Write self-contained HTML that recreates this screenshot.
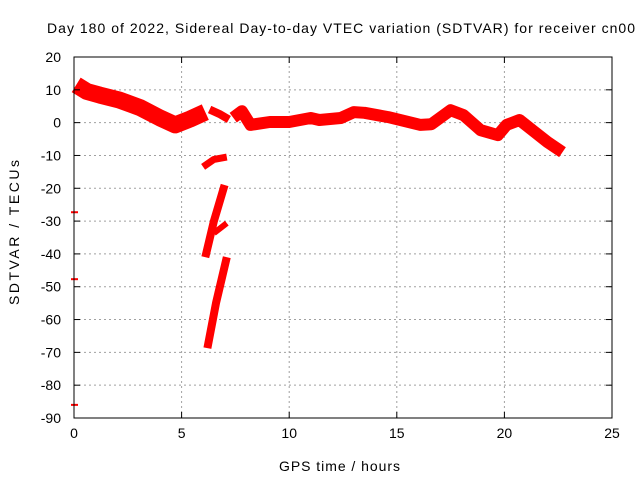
<!DOCTYPE html>
<html><head><meta charset="utf-8"><style>
html,body{margin:0;padding:0;background:#fff}
svg{display:block;font-family:"Liberation Sans",sans-serif}
</style></head><body>
<svg id="chart" width="640" height="480" viewBox="0 0 640 480" xmlns="http://www.w3.org/2000/svg">
<rect width="640" height="480" fill="#fff"/>
<text x="47" y="33" font-size="14" textLength="588" lengthAdjust="spacing">Day 180 of 2022, Sidereal Day-to-day VTEC variation (SDTVAR) for receiver cn00</text>
<text x="279" y="471" font-size="14" textLength="121" lengthAdjust="spacing">GPS time / hours</text>
<text x="19" y="305" font-size="14" textLength="145" lengthAdjust="spacing" transform="rotate(-90 19 305)">SDTVAR / TECUs</text>
<g id="grid"></g><g id="marks"></g><g id="axes"></g>
</svg>
<script>
const xTicks=[0,5,10,15,20,25];
const yTicks=[20,10,0,-10,-20,-30,-40,-50,-60,-70,-80,-90];
const mainHours=[0.1,0.6,1.2,2.1,3.1,4.0,4.7,5.4,6.1];
const mainValues=[11.5,9.5,8.4,6.9,4.5,1.4,-0.7,1.1,3.2];
const seg2Hours=[6.3,6.8,7.2];
const seg2Values=[4.0,2.5,1.0];
const seg3Hours=[7.4,7.8,8.2,9.1,10,11,11.4,12.4,13.0,13.5,14.6,16.1,16.6,17.5,18.1,18.9,19.7,20.1,20.7,21.3,22.0,22.7];
const seg3Values=[1.5,3.5,-0.7,0.2,0.2,1.4,0.8,1.4,3.2,3.0,1.7,-0.7,-0.5,3.8,2.3,-2.3,-3.8,-0.7,0.8,-2.3,-5.9,-9.0];
const segAHours=[6.0,6.5,7.1];
const segAValues=[-13.5,-11.2,-10.5];
const segBHours=[6.1,6.5,7.0];
const segBValues=[-41,-30,-19];
const branchHours=[6.5,7.1];
const branchValues=[-33.7,-30.6];
const segCHours=[6.2,6.6,7.1];
const segCValues=[-68.7,-55,-41];
const outlierValues=[-27.3,-47.7,-86];
const X0=74,X1=612,Y0=418,Y1=57;
const xs=h=>X0+(h-0)/(25-0)*(X1-X0);
const ys=v=>Y0-(v+90)/(110)*(Y0-Y1);
const NS='http://www.w3.org/2000/svg';
function mk(t,a,p){const e=document.createElementNS(NS,t);for(const k in a)e.setAttribute(k,a[k]);p.appendChild(e);return e;}
const grid=document.getElementById('grid'),marks=document.getElementById('marks'),axes=document.getElementById('axes');
xTicks.forEach(t=>{const x=xs(t);
 if(t>0&&t<25){const l=mk('line',{x1:x,y1:Y0,x2:x,y2:Y1,stroke:'#a0a0a0','stroke-dasharray':'2,3'},grid);
 
 }
 mk('line',{x1:x,y1:Y0,x2:x,y2:Y0-6,stroke:'#000'},axes);
 mk('line',{x1:x,y1:Y1,x2:x,y2:Y1+6,stroke:'#000'},axes);
 const tx=mk('text',{x:x,y:Y0+20,'font-size':14,'text-anchor':'middle'},axes);tx.textContent=t;
 
 
});
yTicks.forEach(t=>{const y=ys(t);
 if(t>-90&&t<20){const l=mk('line',{x1:X0,y1:y,x2:X1,y2:y,stroke:'#a0a0a0','stroke-dasharray':'2,3'},grid);
 
 }
 mk('line',{x1:X0,y1:y,x2:X0+6,y2:y,stroke:'#000'},axes);
 mk('line',{x1:X1,y1:y,x2:X1-6,y2:y,stroke:'#000'},axes);
 const tx=mk('text',{x:X0-13,y:y+5,'font-size':14,'text-anchor':'end'},axes);tx.textContent=t;
 
 
});
const b=mk('rect',{x:X0,y:Y1,width:X1-X0,height:Y0-Y1,fill:'none',stroke:'#000'},axes);


function band(hs,vs,w,name){
 const pts=hs.map((h,i)=>xs(h).toFixed(1)+','+ys(vs[i]).toFixed(1)).join(' ');
 const p=mk('polyline',{points:pts,fill:'none',stroke:'#ff0000','stroke-width':w,'stroke-linejoin':'round','stroke-linecap':'butt'},marks);
 
 
}
band(mainHours,mainValues,17,'series-band-main');
band(seg2Hours,seg2Values,8,'series-band-short');
band(seg3Hours,seg3Values,12,'series-band-late');
band(segAHours,segAValues,7,'series-band-minus-12');
band(segBHours,segBValues,8,'series-band-minus-30');
band(branchHours,branchValues,6,'series-branch');
band(segCHours,segCValues,8,'series-band-minus-55');
outlierValues.forEach(v=>{
 const l=mk('line',{x1:X0-3,y1:ys(v),x2:X0+4,y2:ys(v),stroke:'#ff0000','stroke-width':2},marks);
 
 
});
</script>
</body></html>
